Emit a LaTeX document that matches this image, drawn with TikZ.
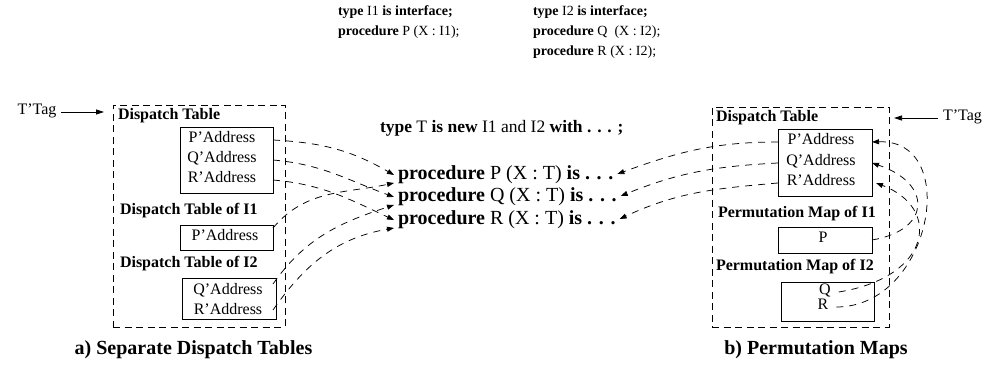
\documentclass[tikz,border=0pt]{standalone}
\usepackage{fontspec}
\setmainfont{Liberation Serif}
\usetikzlibrary{arrows.meta,calc}
\newcommand\pxsize[1]{\fontsize{#1}{#1}\selectfont}
\begin{document}
\begin{tikzpicture}[x=1pt,y=1pt,
  txt/.style={inner sep=0pt, outer sep=0pt, text height=0.7em, text depth=0.2em},
  head/.style={txt, anchor=west, font=\pxsize{16}\bfseries},
  entry/.style={txt, font=\pxsize{16}},
  decl/.style={txt, anchor=west, font=\pxsize{14}},
  proc/.style={txt, anchor=west, font=\pxsize{20}},
  caption/.style={txt, font=\pxsize{20}\bfseries},
  tbox/.style={draw, line width=0.8pt, inner sep=0pt, outer sep=0pt},
  frame/.style={draw, line width=0.8pt, inner sep=0pt, outer sep=0pt, dash pattern=on 7pt off 4.5pt},
  link/.style={line width=0.75pt, dash pattern=on 7pt off 6pt, -{Triangle[length=7pt,width=5pt]}},
  tagarrow/.style={line width=0.75pt, -{Triangle[length=8pt,width=5pt]}}]
\useasboundingbox (0,0) rectangle (990,379);

% interface declarations
\node[decl] (i1a) at (338,366) {\textbf{type} I1 \textbf{is interface;}};
\node[decl] (i1b) at (338,346) {\textbf{procedure} P (X : I1);};
\node[decl] (i2a) at (533,366) {\textbf{type} I2 \textbf{is interface;}};
\node[decl] (i2b) at (533,346) {\textbf{procedure} Q~ (X : I2);};
\node[decl] (i2c) at (533,326) {\textbf{procedure} R (X : I2);};

% the tagged type and its primitives
\node[txt, anchor=west, font=\pxsize{17.5}] (newtype) at (380,249)
  {\textbf{type} T \textbf{is new} I1 and I2 \textbf{with . . . ;}};
\node[proc] (procP) at (398,202) {\textbf{procedure} P (X : T) \textbf{is . . .}};
\node[proc] (procQ) at (398,180) {\textbf{procedure} Q (X : T) \textbf{is . . .}};
\node[proc] (procR) at (398,157) {\textbf{procedure} R (X : T) \textbf{is . . .}};

% a) separate dispatch tables
\node[frame, minimum width=172pt, minimum height=222pt] (lframe) at (199,163) {};
\node[tbox, minimum width=93pt, minimum height=66pt] (lbox) at (226.5,219) {};
\node[tbox, minimum width=93pt, minimum height=25pt] (li1box) at (226.5,141.5) {};
\node[tbox, minimum width=94pt, minimum height=41pt] (li2box) at (229,80.5) {};
\node[head] (ldt) at (118,262) {Dispatch Table};
\node[head] (ldt1) at (120,167) {Dispatch Table of I1};
\node[head] (ldt2) at (120,114) {Dispatch Table of I2};
\node[entry] (lPa) at (222,239) {P'Address};
\node[entry] (lQa) at (222,219) {Q'Address};
\node[entry] (lRa) at (222,199) {R'Address};
\node[entry] (lP1) at (225,141) {P'Address};
\node[entry] (lQ2) at (228,87) {Q'Address};
\node[entry] (lR2) at (228,67) {R'Address};
\node[entry] (ltag) at (37,267) {T'Tag};
\draw[tagarrow, shorten <=5pt, shorten >=9pt] (ltag.east) -- (lframe.west |- ltag);
\node[caption] (capa) at (193.5,27) {a) Separate Dispatch Tables};

% b) permutation maps
\node[frame, minimum width=177pt, minimum height=220pt] (rframe) at (800.5,162) {};
\node[tbox, minimum width=94pt, minimum height=67pt] (rbox) at (825,216.5) {};
\node[tbox, minimum width=94pt, minimum height=26pt] (rpbox) at (825,139) {};
\node[tbox, minimum width=93pt, minimum height=39pt] (rqbox) at (827.5,77.5) {};
\node[head] (rdt) at (716,260) {Dispatch Table};
\node[head] (rpm1) at (718,164) {Permutation Map of I1};
\node[head] (rpm2) at (716,111) {Permutation Map of I2};
\node[entry] (rPa) at (821,237) {P'Address};
\node[entry] (rQa) at (821,216) {Q'Address};
\node[entry] (rRa) at (821,196) {R'Address};
\node[entry] (rP) at (823,139) {P};
\node[entry] (rQ) at (825,87) {Q};
\node[entry] (rR) at (823,72) {R};
\node[entry, anchor=west] (rtag) at (943,261) {T'Tag};
\draw[tagarrow, shorten <=5pt, shorten >=5pt] (rtag.west) -- (rframe.east |- rtag);
\node[caption] (capb) at (816,27) {b) Permutation Maps};

% dispatch table slots of T to its primitives
\draw[link] (lbox.east |- lPa) to[out=-3,in=150] ([xshift=-4pt,yshift=2pt]procP.west);
\draw[link] (lbox.east |- lQa) to[out=-5,in=160] ([xshift=-4pt,yshift=2pt]procQ.west);
\draw[link] (lbox.east |- lRa) to[out=-5,in=155] ([xshift=-4pt,yshift=2pt]procR.west);
\draw[link] ([yshift=-3pt]li1box.north east) to[out=50,in=-168] ([xshift=-4pt,yshift=-6pt]procP.west);
\draw[link] ([xshift=-3pt,yshift=-6pt]li2box.north east) to[out=55,in=-162] ([xshift=-4pt,yshift=-6pt]procQ.west);
\draw[link] ($(li2box.east |- lR2)+(-3,2)$) to[out=55,in=-170] ([xshift=-4pt,yshift=-6pt]procR.west);

\draw[link] (rbox.west |- rPa) to[out=180,in=20] ([xshift=4pt,yshift=3pt]procP.east);
\draw[link] (rbox.west |- rQa) to[out=183,in=22] ([xshift=4pt,yshift=3pt]procQ.east);
\draw[link] (rbox.west |- rRa) to[out=185,in=25] ([xshift=4pt,yshift=3pt]procR.east);

% permutation map entries to dispatch table slots
\draw[link] ([xshift=8pt]rR.east) .. controls +(95,0) and +(90,3) .. (rbox.east |- rPa);
\draw[link] (rpbox.east) .. controls +(60,10) and +(60,-20) .. (rbox.east |- rQa);
\draw[link] ([xshift=8pt]rQ.east) .. controls +(93,15) and +(66,-25) .. ($(rbox.east |- rRa)+(4,0)$);
\end{tikzpicture}
\end{document}
